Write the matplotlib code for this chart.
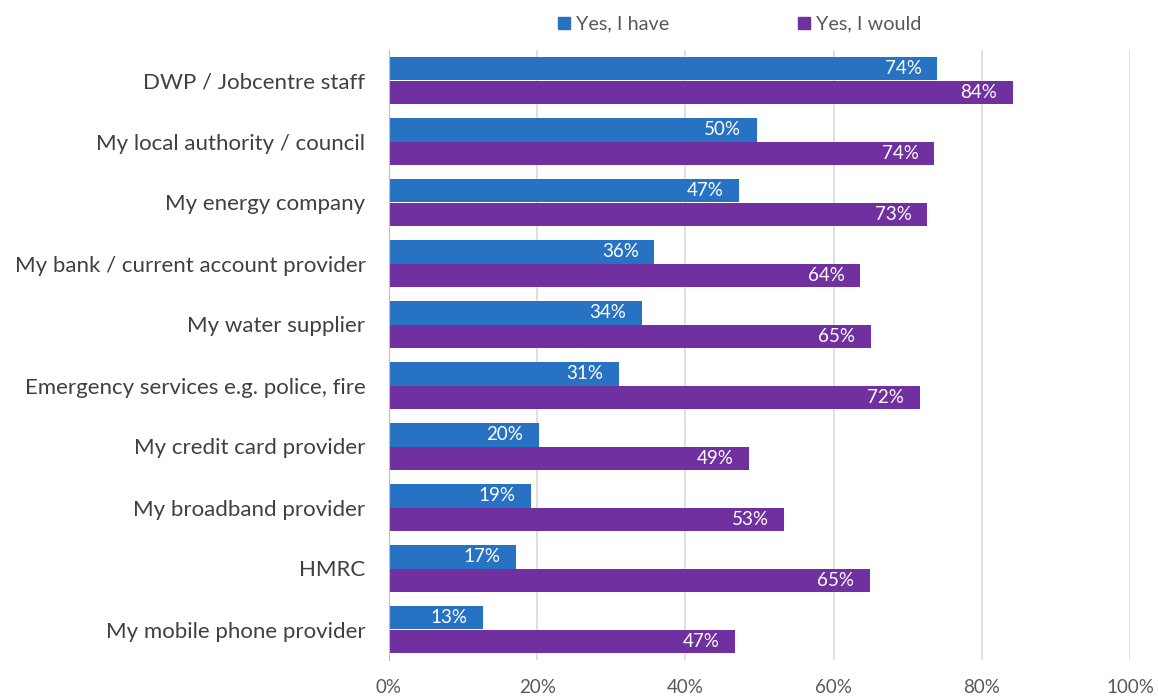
import numpy as np
import matplotlib.pyplot as plt
from matplotlib.patches import Patch

categories = ['DWP / Jobcentre staff', 'My local authority / council', 'My energy company',
              'My bank / current account provider', 'My water supplier',
              'Emergency services e.g. police, fire', 'My credit card provider',
              'My broadband provider', 'HMRC', 'My mobile phone provider']
yes_have = [74.0, 49.6, 47.2, 35.8, 34.1, 31.0, 20.2, 19.2, 17.1, 12.7]
yes_would = [84.2, 73.6, 72.6, 63.6, 65.0, 71.6, 48.6, 53.3, 64.9, 46.7]

blue = '#2872C4'
purple = '#7030A0'

plt.rcParams['font.family'] = ['Lato', 'DejaVu Sans']

fig = plt.figure(figsize=(11.58, 6.96), dpi=100)
ax = fig.add_axes([389/1158, 1 - 660/696, (1130-389)/1158, (660-50)/696])

y = np.arange(len(categories))
h = 0.385
b1 = ax.barh(y - h/2, yes_have, height=h, color=blue, label='Yes, I have')
b2 = ax.barh(y + h/2, yes_would, height=h, color=purple, label='Yes, I would')

for bars, vals in [(b1, yes_have), (b2, yes_would)]:
    for bar, v in zip(bars, vals):
        ax.text(bar.get_width() - 2.1, bar.get_y() + bar.get_height()/2, '%d%%' % round(v),
                ha='right', va='center', color='white', fontsize=13.5)

ax.set_xlim(0, 100)
ax.set_ylim(len(categories) - 0.5, -0.5)
ax.set_yticks(y)
ax.set_yticklabels(categories, fontsize=16, color='#404040')
ax.set_xticks([0, 20, 40, 60, 80, 100])
ax.set_xticklabels(['0%', '20%', '40%', '60%', '80%', '100%'], fontsize=13.5, color='#595959')
ax.tick_params(axis='both', length=0)
ax.tick_params(axis='y', pad=17)
ax.tick_params(axis='x', pad=14)
ax.xaxis.grid(True, color='#D9D9D9', linewidth=1.2)
ax.set_axisbelow(True)
for s in ['top', 'right', 'bottom']:
    ax.spines[s].set_visible(False)
ax.spines['left'].set_color('#BFBFBF')

handles = [Patch(color=blue, label='Yes, I have'), Patch(color=purple, label='Yes, I would')]
fig.legend(handles=handles, loc='center', bbox_to_anchor=(0.639, 0.965), ncol=2, frameon=False,
           fontsize=14.3, handlelength=0.6, handleheight=0.6, handletextpad=0.3, columnspacing=6.5,
           labelcolor='#595959')

fig.savefig('out.png', dpi=100)
